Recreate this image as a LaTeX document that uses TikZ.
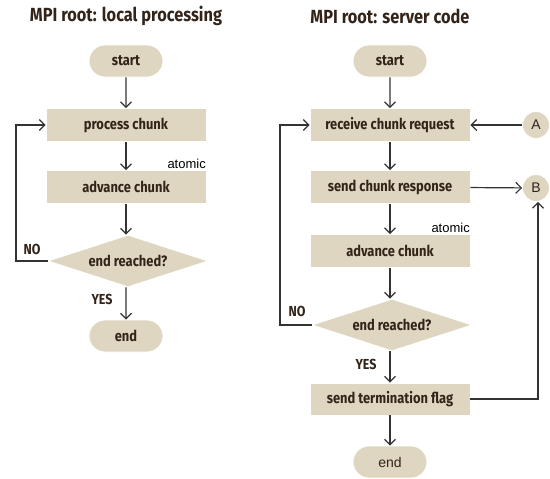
\documentclass[tikz,border=0pt]{standalone}
\usepackage{fontspec}
\setmainfont[FakeStretch=0.86]{Fira Sans}
\newfontfamily\arialfont{Liberation Sans}
\usetikzlibrary{shapes.geometric,shapes.misc,arrows.meta}
\definecolor{boxfill}{HTML}{DED6C1}
\definecolor{txt}{HTML}{33241A}
\definecolor{ln}{HTML}{333333}
\tikzset{
  x=1pt,y=-1pt,
  base/.style={fill=boxfill,draw=white,line width=0.8pt,text=txt,font=\bfseries\fontsize{15}{17}\selectfont,inner sep=0pt},
  term/.style={base,rounded rectangle,minimum width=74pt,minimum height=32pt},
  proc/.style={base,rectangle,minimum width=160pt,minimum height=33pt},
  dec/.style={base,diamond,aspect=3.1,minimum width=160pt,minimum height=52pt},
  conn/.style={base,circle,minimum size=27pt,font=\arialfont\fontsize{14}{16}\selectfont},
  arr/.style={draw=ln,line width=1.2pt,-{Straight Barb[length=5.5pt,width=11pt,line width=1.2pt]}},
  lbl/.style={text=txt,font=\bfseries\fontsize{14.5}{16}\selectfont,inner sep=0pt},
  atm/.style={text=black,font=\arialfont\fontsize{13}{15}\selectfont,inner sep=0pt},
  ttl/.style={text=txt,font=\bfseries\fontsize{19}{21}\selectfont,inner sep=0pt}
}
\begin{document}
\begin{tikzpicture}
\useasboundingbox (0,0) rectangle (550,479);
% titles
\node[ttl] (t1) at (126,16) {MPI root: local processing};
\node[ttl] (t2) at (390,16) {MPI root: server code};
% left column
\node[term] (ls) at (126,61) {start};
\node[proc] (lp) at (126,125) {process chunk};
\node[proc] (la) at (126,187) {advance chunk};
\node[dec] (ld) at (128,261) {end reached?};
\node[term] (le) at (126,336) {end};
\node[atm,anchor=base east] (lat) at (206,168) {atomic};
\node[lbl] (lno) at (32,249) {NO};
\node[lbl] (lyes) at (102,299) {YES};
\coordinate (lc1) at (16,261);
\coordinate (lc2) at (16,125);
\draw[arr] (ls) -- (lp);
\draw[arr] (lp) -- (la);
\draw[arr] (la.south) -- (la.south |- ld.north);
\draw[arr] (ld.south -| le.north) -- (le);
\draw[arr] (ld.west) -- (lc1) -- (lc2) -- (lp.west);
% right column
\node[term] (rs) at (390,61) {start};
\node[proc] (rr) at (390,125) {receive chunk request};
\node[proc] (rsr) at (390,187) {send chunk response};
\node[proc] (ra) at (390,251) {advance chunk};
\node[dec] (rd) at (392,325) {end reached?};
\node[proc,minimum height=32pt] (rt) at (390,399) {send termination flag};
\node[term,font=\arialfont\fontsize{14}{16}\selectfont] (re) at (390,462) {end};
\node[conn] (ca) at (536,125) {A};
\node[conn] (cb) at (536,188) {B};
\node[atm,anchor=base east] (rat) at (470,232) {atomic};
\node[lbl] (rno) at (297,311) {NO};
\node[lbl] (ryes) at (366,364) {YES};
\coordinate (rc1) at (280,325);
\coordinate (rc2) at (280,125);
\coordinate (rc3) at (538,399);
\draw[arr] (rs) -- (rr);
\draw[arr] (rr) -- (rsr);
\draw[arr] (rsr) -- (ra);
\draw[arr] (ra.south) -- (ra.south |- rd.north);
\draw[arr] (rd.south -| rt.north) -- (rt);
\draw[arr] (rt) -- (re);
\draw[arr] (rd.west) -- (rc1) -- (rc2) -- (rr.west);
\draw[arr] (ca) -- (rr);
\draw[arr] (rsr) -- (cb);
\draw[arr] (rt.east) -- (rc3) -- (rc3 |- cb.south);
\end{tikzpicture}
\end{document}
